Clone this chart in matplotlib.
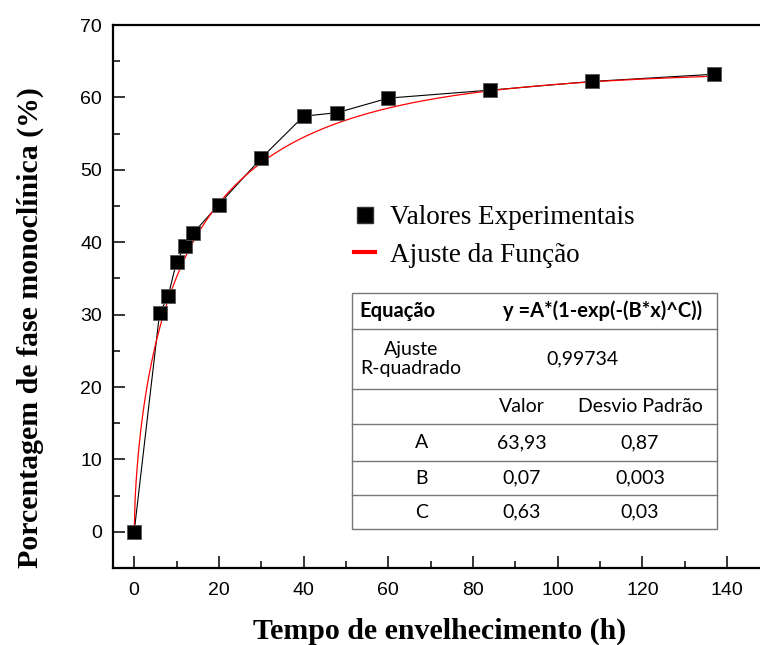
import numpy as np
import matplotlib
matplotlib.use("Agg")
import matplotlib.pyplot as plt
from matplotlib.lines import Line2D
from matplotlib.patches import Rectangle

# Experimental data: monoclinic phase fraction vs ageing time
tempo_h = [0, 6, 8, 10, 12, 14, 20, 30, 40, 48, 60, 84, 108, 137]
fase_monoclinica = [0, 30.2, 32.5, 37.3, 39.5, 41.3, 45.2, 51.6, 57.4, 57.9, 59.9, 61.0, 62.2, 63.2]

# Fitted parameters y = A*(1-exp(-(B*x)^C))
param_names = ["A", "B", "C"]
param_values = [63.93, 0.07, 0.63]
param_values_txt = ["63,93", "0,07", "0,63"]
param_errors_txt = ["0,87", "0,003", "0,03"]
r_squared_txt = "0,99734"
equation_txt = "y =A*(1-exp(-(B*x)^C))"

x_ticks = [0, 20, 40, 60, 80, 100, 120, 140]
y_ticks = [0, 10, 20, 30, 40, 50, 60, 70]

W, H = 760, 645
fig = plt.figure(figsize=(W / 100, H / 100), dpi=100)


def fx(px):
    return px / W


def fy(py):
    return 1 - py / H


ax_left, ax_top, ax_bottom = 113, 25, 568
x_min, x_max = -5, 150
px_per_unit = (727 - 134) / 140
ax_right = 134 + x_max * px_per_unit
ax = fig.add_axes([fx(ax_left), fy(ax_bottom), (ax_right - ax_left) / W, (ax_bottom - ax_top) / H])
ax.set_xlim(x_min, x_max)
ax.set_ylim(-5, 70)

# Fitted curve from the table parameters
A, B, C = param_values
xf = np.linspace(0, max(tempo_h), 600)
yf = A * (1 - np.exp(-(B * xf) ** C))

ax.plot(tempo_h, fase_monoclinica, color="black", lw=0.8, zorder=2)
ax.plot(xf, yf, color="red", lw=0.9, zorder=3)
ax.plot(tempo_h, fase_monoclinica, ls="none", marker="s", ms=9.5,
        mfc="black", mec="#555555", mew=0.6, zorder=4)

for s in ["left", "bottom", "top"]:
    ax.spines[s].set_linewidth(1.6)
ax.spines["right"].set_visible(False)

ax.set_xticks(x_ticks)
ax.set_yticks(y_ticks)
ax.set_xticks(np.arange(10, 150, 20), minor=True)
ax.set_yticks(np.arange(-5, 70, 10)[1:], minor=True)
ax.tick_params(which="major", direction="in", length=8.5, width=1.1,
               labelsize=14, top=False, right=False)
ax.tick_params(which="minor", direction="in", length=5, width=1.1,
               top=False, right=False)
ax.tick_params(axis="x", pad=10)
ax.tick_params(axis="y", pad=8)
for lab in ax.get_xticklabels() + ax.get_yticklabels():
    lab.set_family("Liberation Sans")

fig.text(fx(440), fy(631), "Tempo de envelhecimento (h)", ha="center", va="center",
         family="Liberation Serif", weight="bold", fontsize=21.5)
fig.text(fx(30), fy(328), "Porcentagem de fase monoclínica (%)", ha="center", va="center",
         rotation=90, family="Liberation Serif", weight="bold", fontsize=21.5)

# Legend
leg_handles = [
    Line2D([], [], ls="none", marker="s", ms=12, mfc="black", mec="#333333"),
    Line2D([], [], color="red", lw=3),
]
leg = fig.legend(leg_handles, ["Valores Experimentais", "Ajuste da Função"],
                 loc="upper left", bbox_to_anchor=(fx(330), fy(181)),
                 frameon=False, handlelength=0.75, handletextpad=0.55,
                 labelspacing=0.45, prop={"family": "Liberation Serif", "size": 19.5})

# Results table
t_left, t_right = 352, 717
row_edges = [293, 329, 389, 424, 461, 495, 529]
fig.add_artist(Rectangle((fx(t_left), fy(row_edges[-1])), (t_right - t_left) / W,
                         (row_edges[-1] - row_edges[0]) / H, transform=fig.transFigure,
                         fill=True, fc="white", ec="#777777", lw=1.0, zorder=5))
for ye in row_edges[1:-1]:
    fig.add_artist(Line2D([fx(t_left), fx(t_right)], [fy(ye), fy(ye)],
                          transform=fig.transFigure, color="#777777", lw=1.0, zorder=6))

tfont = dict(family="Lato", fontsize=14, zorder=7, va="center")
bfont = dict(family="Lato", fontsize=14.5, zorder=7, va="center", weight="bold")
col1, col2, col3 = 422, 522, 640


def rc(i):
    return fy((row_edges[i] + row_edges[i + 1]) / 2)


fig.text(fx(359), rc(0), "Equação", ha="left", **bfont)
fig.text(fx(603), rc(0), equation_txt, ha="center", **bfont)
fig.text(fx(411), rc(1), "Ajuste\nR-quadrado", ha="center", linespacing=1.1, **tfont)
fig.text(fx(582), rc(1), r_squared_txt, ha="center", **tfont)
fig.text(fx(col2), rc(2), "Valor", ha="center", **tfont)
fig.text(fx(col3), rc(2), "Desvio Padrão", ha="center", **tfont)
for i, (n, v, e) in enumerate(zip(param_names, param_values_txt, param_errors_txt)):
    fig.text(fx(col1), rc(3 + i), n, ha="center", **tfont)
    fig.text(fx(col2), rc(3 + i), v, ha="center", **tfont)
    fig.text(fx(col3), rc(3 + i), e, ha="center", **tfont)

fig.savefig("out.png", dpi=100)
